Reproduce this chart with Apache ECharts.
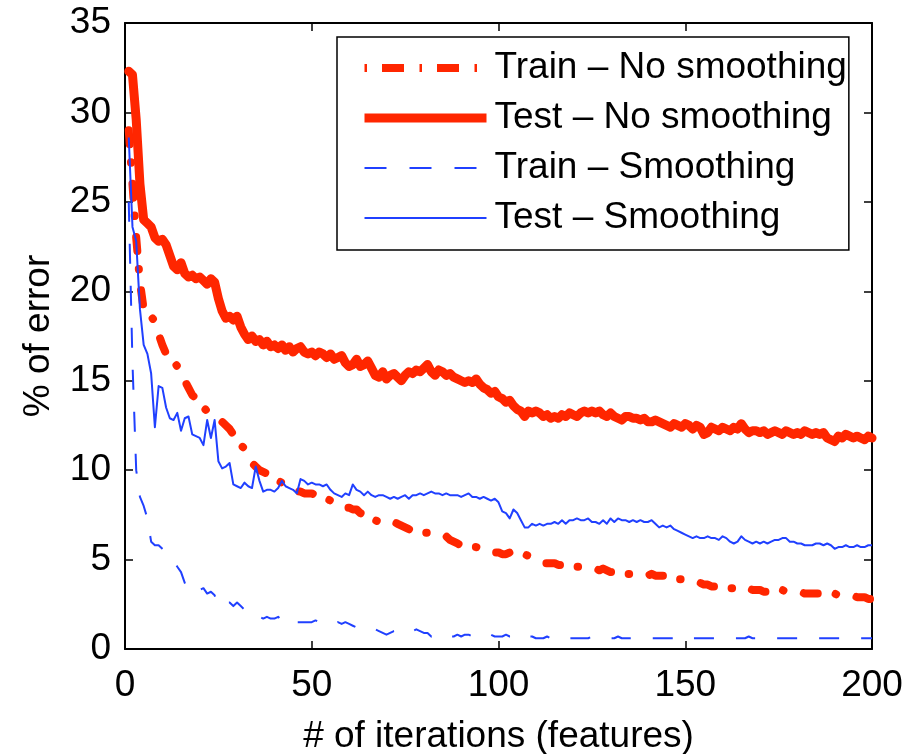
<!DOCTYPE html>
<html>
<head>
<meta charset="utf-8">
<script src="https://cdn.jsdelivr.net/npm/echarts@6/dist/echarts.min.js"></script>
<style>
html,body{margin:0;padding:0;background:#fff;}
#c{width:916px;height:754px;}
</style>
</head>
<body>
<div id="c"></div>
<script>
// ---- data ----
const seriesNames = ['Train \u2013 No smoothing', 'Test \u2013 No smoothing', 'Train \u2013 Smoothing', 'Test \u2013 Smoothing'];
const xTicks = [0, 50, 100, 150, 200];
const yTicks = [0, 5, 10, 15, 20, 25, 30, 35];
const iterations = Array.from({length: 200}, (_, i) => i + 1);

const trainNoSmoothing = [
  29.0, 26.0, 23.0, 20.5, 19.0, 18.8, 18.6, 18.3, 17.6, 17.0,
  16.5, 16.3, 16.1, 15.8, 15.5, 15.0, 14.6, 14.2, 14.0, 13.8,
  13.5, 13.3, 13.2, 13.0, 12.9, 12.7, 12.5, 12.3, 12.0, 11.7,
  11.4, 11.2, 10.8, 10.4, 10.2, 10.0, 9.9, 9.8, 9.7, 9.6,
  9.4, 9.3, 9.2, 9.0, 8.9, 8.8, 8.8, 8.7, 8.7, 8.7,
  8.6, 8.6, 8.5, 8.4, 8.3, 8.1, 8.0, 7.9, 7.9, 7.9,
  7.8, 7.8, 7.6, 7.5, 7.5, 7.4, 7.2, 7.1, 7.1, 7.0,
  7.0, 7.1, 7.0, 6.9, 6.8, 6.7, 6.6, 6.6, 6.5, 6.5,
  6.5, 6.5, 6.4, 6.4, 6.3, 6.3, 6.1, 6.0, 5.9, 5.8,
  5.8, 5.7, 5.7, 5.7, 5.6, 5.5, 5.5, 5.4, 5.4, 5.4,
  5.3, 5.3, 5.4, 5.3, 5.3, 5.3, 5.3, 5.2, 5.1, 5.0,
  4.9, 4.8, 4.8, 4.8, 4.8, 4.7, 4.7, 4.7, 4.6, 4.6,
  4.6, 4.6, 4.6, 4.5, 4.5, 4.5, 4.4, 4.5, 4.4, 4.3,
  4.3, 4.3, 4.2, 4.2, 4.2, 4.2, 4.2, 4.2, 4.2, 4.1,
  4.2, 4.1, 4.1, 4.1, 4.1, 4.0, 3.9, 3.9, 3.9, 3.8,
  3.8, 3.8, 3.8, 3.7, 3.6, 3.6, 3.5, 3.5, 3.5, 3.4,
  3.4, 3.4, 3.4, 3.5, 3.5, 3.4, 3.4, 3.3, 3.3, 3.3,
  3.2, 3.2, 3.2, 3.3, 3.3, 3.3, 3.2, 3.2, 3.2, 3.2,
  3.2, 3.1, 3.1, 3.1, 3.1, 3.1, 3.1, 3.1, 3.1, 3.1,
  3.0, 3.0, 3.0, 3.0, 3.0, 2.9, 2.9, 2.9, 2.8, 2.8
];

const testNoSmoothing = [
  32.3, 32.1, 29.6, 26.0, 24.0, 23.8, 23.6, 23.0, 22.8, 22.9,
  22.6, 22.0, 21.4, 21.2, 21.6, 21.0, 20.8, 20.9, 20.7, 20.8,
  20.6, 20.4, 20.7, 20.5, 19.6, 18.9, 18.5, 18.6, 18.4, 18.6,
  18.0, 17.6, 17.3, 17.5, 17.2, 17.3, 17.0, 17.2, 16.9, 17.0,
  16.8, 17.0, 16.7, 16.9, 16.6, 16.8, 16.9, 16.6, 16.5, 16.6,
  16.4, 16.6, 16.5, 16.3, 16.5, 16.2, 16.3, 16.4, 16.0, 15.8,
  15.9, 16.2, 15.8, 15.9, 16.1, 15.7, 15.3, 15.2, 15.5, 15.1,
  15.3, 15.4, 15.2, 15.0, 15.3, 15.5, 15.4, 15.6, 15.5, 15.7,
  15.9, 15.5, 15.3, 15.6, 15.5, 15.3, 15.4, 15.2, 15.1, 15.0,
  14.9, 15.0, 14.9, 15.1, 14.8, 14.6, 14.5, 14.3, 14.4, 14.1,
  14.0, 13.8, 13.9, 13.6, 13.4, 13.3, 13.0, 13.3, 13.2, 13.3,
  13.2, 13.0, 13.1, 12.9, 13.0, 12.9, 13.1, 13.0, 13.2, 13.1,
  13.0, 13.2, 13.3, 13.2, 13.3, 13.2, 13.3, 13.1, 13.0, 13.2,
  13.0, 12.9, 12.8, 13.0, 13.0, 12.9, 12.9, 12.8, 12.9, 12.7,
  12.7, 12.8, 12.7, 12.6, 12.5, 12.4, 12.6, 12.5, 12.4, 12.6,
  12.5, 12.3, 12.5, 12.4, 12.0, 12.1, 12.4, 12.3, 12.2, 12.4,
  12.3, 12.2, 12.4, 12.3, 12.6, 12.3, 12.1, 12.2, 12.2, 12.1,
  12.2, 12.0, 12.1, 12.2, 12.1, 12.0, 12.2, 12.1, 12.0, 12.1,
  12.0, 12.2, 12.1, 12.0, 12.1, 12.0, 12.1, 11.8, 11.7, 11.6,
  11.9, 11.8, 12.0, 11.9, 11.8, 11.9, 11.8, 11.7, 11.9, 11.8
];

const trainSmoothing = [
  25.0, 16.0, 10.0, 8.5, 8.0, 7.3, 6.0, 5.8, 5.8, 5.6,
  5.4, 5.1, 4.9, 4.6, 4.3, 3.7, 3.6, 3.5, 3.7, 3.3,
  3.4, 3.1, 3.2, 3.0, 2.4, 2.6, 2.6, 2.6, 2.4, 2.6,
  2.4, 2.2, 2.1, 1.9, 2.0, 1.8, 1.7, 1.8, 1.7, 1.7,
  1.8, 1.6, 1.7, 1.5, 1.6, 1.5, 1.5, 1.5, 1.5, 1.5,
  1.6, 1.5, 1.5, 1.6, 1.5, 1.4, 1.5, 1.4, 1.5, 1.4,
  1.3, 1.2, 1.1, 1.2, 1.2, 1.2, 1.1, 1.0, 0.9, 0.8,
  0.9, 1.0, 1.0, 0.9, 1.0, 0.9, 1.0, 1.1, 1.0, 0.9,
  0.9, 0.7, 0.8, 0.8, 0.7, 0.8, 0.7, 0.7, 0.8, 0.7,
  0.8, 0.8, 0.7, 0.7, 0.8, 0.7, 0.7, 0.8, 0.7, 0.7,
  0.7, 0.8, 0.7, 0.7, 0.6, 0.7, 0.6, 0.7, 0.7, 0.6,
  0.6, 0.6, 0.7, 0.6, 0.6, 0.6, 0.6, 0.7, 0.6, 0.6,
  0.6, 0.6, 0.6, 0.6, 0.7, 0.6, 0.6, 0.6, 0.6, 0.6,
  0.6, 0.7, 0.6, 0.6, 0.6, 0.6, 0.6, 0.6, 0.6, 0.6,
  0.6, 0.6, 0.6, 0.6, 0.6, 0.6, 0.6, 0.7, 0.6, 0.6,
  0.6, 0.6, 0.6, 0.6, 0.6, 0.6, 0.6, 0.6, 0.6, 0.6,
  0.6, 0.6, 0.6, 0.6, 0.6, 0.6, 0.7, 0.6, 0.6, 0.6,
  0.6, 0.6, 0.6, 0.6, 0.6, 0.6, 0.6, 0.6, 0.6, 0.6,
  0.6, 0.6, 0.6, 0.6, 0.6, 0.6, 0.6, 0.6, 0.6, 0.6,
  0.6, 0.6, 0.6, 0.6, 0.6, 0.6, 0.6, 0.6, 0.6, 0.6
];

const testSmoothing = [
  28.6, 23.6, 22.8, 19.0, 17.0, 16.5, 15.4, 12.4, 14.7, 14.6,
  13.5, 12.9, 12.8, 13.2, 12.2, 12.9, 13.0, 12.0, 11.9, 11.8,
  11.4, 12.8, 11.8, 12.8, 10.5, 10.1, 10.2, 10.4, 9.2, 9.1,
  9.0, 9.3, 9.1, 9.0, 10.2, 9.4, 8.8, 8.9, 8.9, 8.8,
  9.0, 9.4, 9.1, 9.0, 8.9, 8.7, 9.5, 9.4, 9.2, 9.3,
  9.2, 9.2, 9.1, 9.2, 8.9, 8.7, 8.6, 8.5, 8.7, 8.6,
  9.2, 8.9, 8.8, 8.6, 8.8, 8.6, 8.5, 8.6, 8.6, 8.5,
  8.4, 8.5, 8.4, 8.5, 8.6, 8.4, 8.6, 8.6, 8.7, 8.6,
  8.7, 8.8, 8.7, 8.7, 8.6, 8.7, 8.6, 8.6, 8.6, 8.5,
  8.6, 8.7, 8.5, 8.5, 8.4, 8.5, 8.4, 8.3, 8.4, 8.2,
  7.7, 7.6, 7.3, 7.8, 7.6, 7.2, 6.8, 6.8, 7.0, 6.9,
  7.0, 6.9, 7.0, 7.0, 7.1, 7.0, 7.2, 7.0, 7.2, 7.2,
  7.3, 7.2, 7.2, 7.3, 7.1, 7.1, 7.0, 7.2, 7.0, 7.3,
  7.1, 7.3, 7.2, 7.2, 7.1, 7.2, 7.1, 7.2, 7.1, 7.1,
  7.2, 7.0, 6.8, 6.9, 6.8, 6.9, 6.7, 6.6, 6.5, 6.4,
  6.3, 6.2, 6.3, 6.2, 6.2, 6.3, 6.2, 6.2, 6.1, 6.3,
  6.2, 6.0, 5.9, 6.0, 6.3, 6.1, 6.0, 5.9, 6.0, 5.9,
  6.0, 5.9, 6.0, 6.1, 6.1, 6.2, 6.2, 6.0, 6.0, 5.9,
  5.9, 5.8, 5.8, 5.8, 5.9, 5.9, 5.8, 5.9, 5.8, 5.6,
  5.7, 5.7, 5.8, 5.7, 5.7, 5.8, 5.7, 5.7, 5.8, 5.8
];

// ---- chart ----
const FONT = 'Liberation Sans';
const RED = '#ff2600';
const BLUE = '#2040ff';
const pair = (vals) => iterations.map((x, i) => [x, vals[i]]);

const chart = echarts.init(document.getElementById('c'), null, {renderer: 'canvas'});

const axisCommon = {
  axisLine: {show: true, onZero: false, lineStyle: {color: '#000', width: 2}},
  axisTick: {show: true, inside: true, length: 8, lineStyle: {color: '#000', width: 1.5}},
  splitLine: {show: false}
};

const option = {
  animation: false,
  backgroundColor: '#fff',
  grid: {left: 125, right: 44, top: 23, bottom: 105, containLabel: false, outerBoundsMode: 'none'},
  xAxis: [
    Object.assign({
      type: 'value', min: xTicks[0], max: xTicks[xTicks.length - 1], interval: xTicks[1] - xTicks[0],
      position: 'bottom',
      name: '# of iterations (features)', nameLocation: 'middle', nameGap: 69,
      nameTextStyle: {fontFamily: FONT, fontSize: 37, color: '#000'},
      axisLabel: {fontFamily: FONT, fontSize: 37, color: '#000', margin: 18}
    }, axisCommon),
    Object.assign({
      type: 'value', min: xTicks[0], max: xTicks[xTicks.length - 1], interval: xTicks[1] - xTicks[0],
      position: 'top', axisLabel: {show: false}
    }, axisCommon)
  ],
  yAxis: [
    Object.assign({
      type: 'value', min: yTicks[0], max: yTicks[yTicks.length - 1], interval: yTicks[1] - yTicks[0],
      position: 'left',
      name: '% of error', nameLocation: 'middle', nameGap: 68, nameRotate: 90,
      nameTextStyle: {fontFamily: FONT, fontSize: 37, color: '#000'},
      axisLabel: {fontFamily: FONT, fontSize: 37, color: '#000', margin: 14}
    }, axisCommon),
    Object.assign({
      type: 'value', min: yTicks[0], max: yTicks[yTicks.length - 1], interval: yTicks[1] - yTicks[0],
      position: 'right', axisLabel: {show: false}
    }, axisCommon)
  ],
  legend: {
    show: true,
    orient: 'vertical',
    left: 337, top: 37,
    padding: [6, 2, 7, 23],
    itemGap: 0,
    itemWidth: 122,
    itemHeight: 2,
    selectedMode: false,
    backgroundColor: '#fff',
    borderColor: '#000',
    borderWidth: 1.5,
    borderRadius: 0,
    itemStyle: {opacity: 0},
    textStyle: {fontFamily: FONT, fontSize: 37, lineHeight: 50, color: '#000', padding: [0, 0, 0, 3]},
    data: [
      {name: seriesNames[0], lineStyle: {type: [2.5, 15, 22, 15.5], cap: 'butt', width: 8}},
      {name: seriesNames[1], lineStyle: {width: 9, cap: 'butt'}},
      {name: seriesNames[2], lineStyle: {type: [22, 23], width: 2}},
      {name: seriesNames[3], lineStyle: {width: 2}}
    ]
  },
  series: [
    {
      name: seriesNames[0], type: 'line', data: pair(trainNoSmoothing),
      symbol: 'none', smooth: false,
      lineStyle: {color: RED, width: 8, type: [14, 18, 0.5, 21], cap: 'round', join: 'round'},
      itemStyle: {color: RED}
    },
    {
      name: seriesNames[1], type: 'line', data: pair(testNoSmoothing),
      symbol: 'none', smooth: false,
      lineStyle: {color: RED, width: 9, cap: 'round', join: 'round'},
      itemStyle: {color: RED}
    },
    {
      name: seriesNames[2], type: 'line', data: pair(trainSmoothing),
      symbol: 'none', smooth: false,
      lineStyle: {color: BLUE, width: 2, type: [20, 22], join: 'round'},
      itemStyle: {color: BLUE}
    },
    {
      name: seriesNames[3], type: 'line', data: pair(testSmoothing),
      symbol: 'none', smooth: false,
      lineStyle: {color: BLUE, width: 2, join: 'round'},
      itemStyle: {color: BLUE}
    }
  ]
};
chart.setOption(option);
</script>
</body>
</html>
